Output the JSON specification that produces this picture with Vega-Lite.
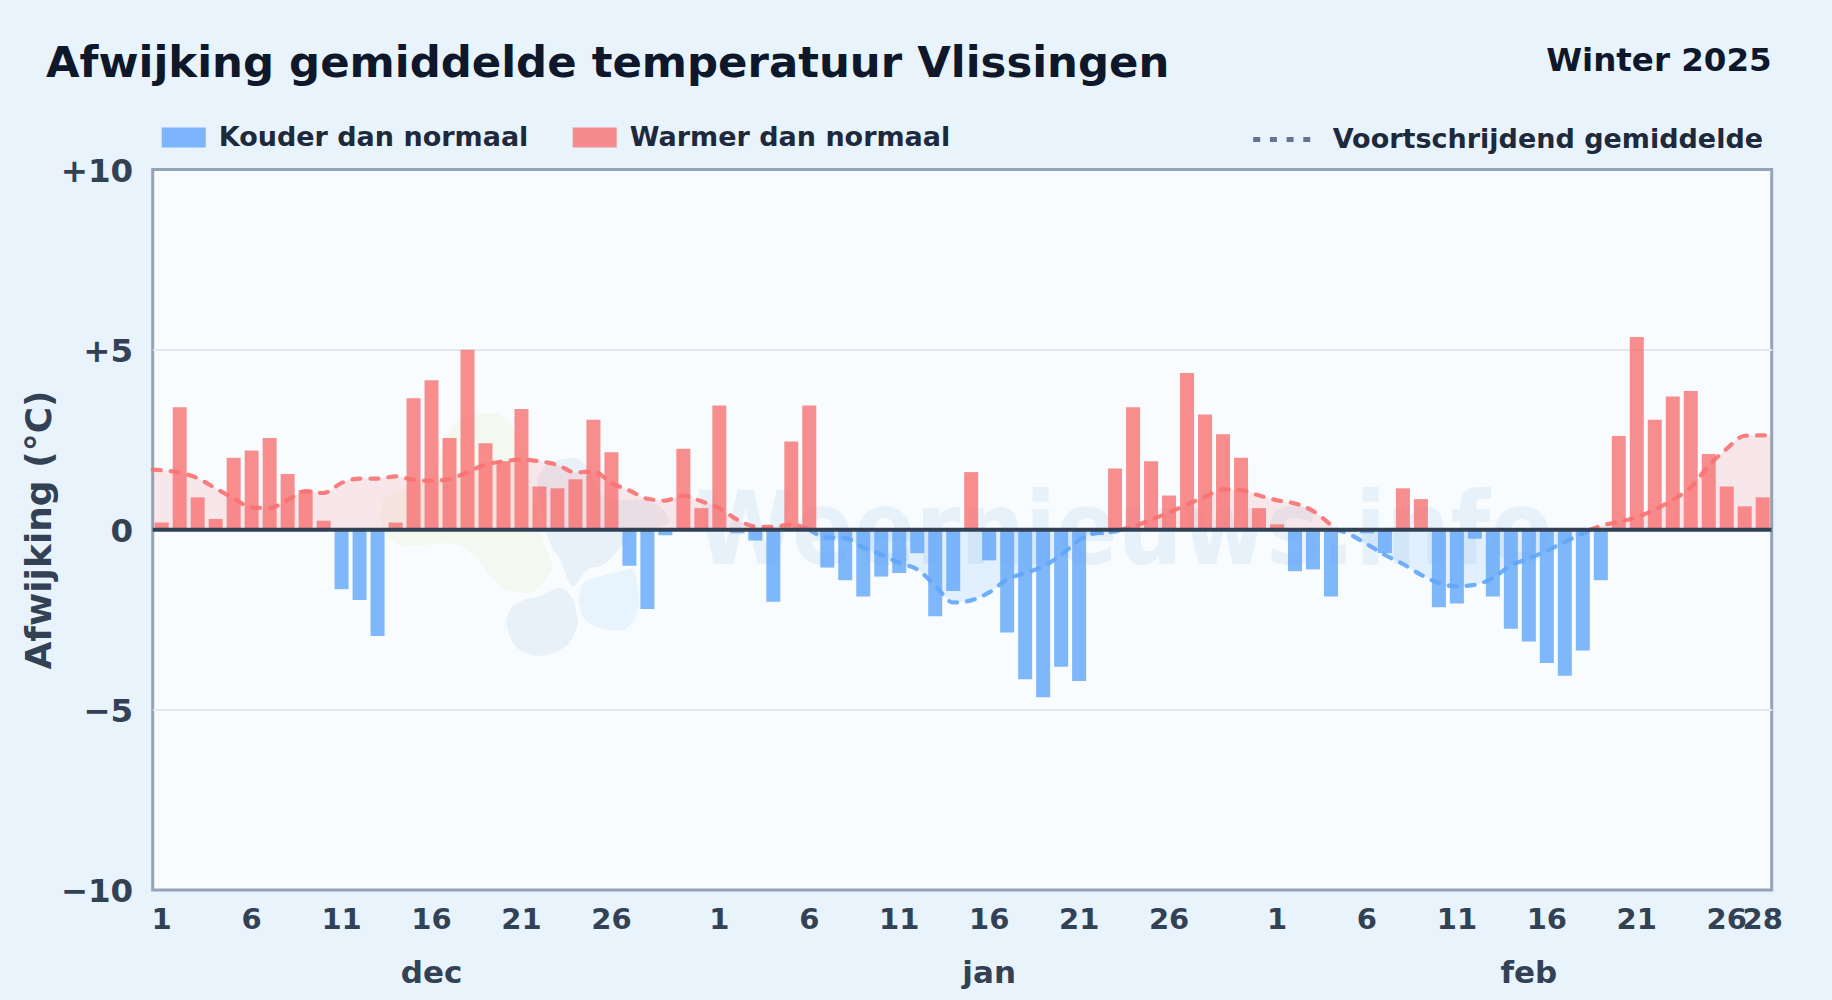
{"$schema":"https://vega.github.io/schema/vega-lite/v6.json","width":1619,"height":720.5,"autosize":{"type":"none"},"padding":{"left":152.7,"top":169.5,"right":60.3,"bottom":110},"background":"#e8f3fc","config":{"font":"DejaVu Sans","view":{"fill":"#f8fcff","stroke":"#94a3b8","strokeWidth":3}},"title":{"text":"Afwijking gemiddelde temperatuur Vlissingen","anchor":"start","frame":"group","font":"DejaVu Sans","fontSize":43.4,"fontWeight":"bold","color":"#0f172a","baseline":"alphabetic","dx":-106.7,"offset":-76},"datasets":{"dagen":[{"n":1,"afwijking":0.2,"type":"Warmer dan normaal"},{"n":2,"afwijking":3.4,"type":"Warmer dan normaal"},{"n":3,"afwijking":0.9,"type":"Warmer dan normaal"},{"n":4,"afwijking":0.3,"type":"Warmer dan normaal"},{"n":5,"afwijking":2.0,"type":"Warmer dan normaal"},{"n":6,"afwijking":2.2,"type":"Warmer dan normaal"},{"n":7,"afwijking":2.55,"type":"Warmer dan normaal"},{"n":8,"afwijking":1.55,"type":"Warmer dan normaal"},{"n":9,"afwijking":1.1,"type":"Warmer dan normaal"},{"n":10,"afwijking":0.25,"type":"Warmer dan normaal"},{"n":11,"afwijking":-1.65,"type":"Kouder dan normaal"},{"n":12,"afwijking":-1.95,"type":"Kouder dan normaal"},{"n":13,"afwijking":-2.95,"type":"Kouder dan normaal"},{"n":14,"afwijking":0.2,"type":"Warmer dan normaal"},{"n":15,"afwijking":3.65,"type":"Warmer dan normaal"},{"n":16,"afwijking":4.15,"type":"Warmer dan normaal"},{"n":17,"afwijking":2.55,"type":"Warmer dan normaal"},{"n":18,"afwijking":5.0,"type":"Warmer dan normaal"},{"n":19,"afwijking":2.4,"type":"Warmer dan normaal"},{"n":20,"afwijking":1.9,"type":"Warmer dan normaal"},{"n":21,"afwijking":3.35,"type":"Warmer dan normaal"},{"n":22,"afwijking":1.2,"type":"Warmer dan normaal"},{"n":23,"afwijking":1.15,"type":"Warmer dan normaal"},{"n":24,"afwijking":1.4,"type":"Warmer dan normaal"},{"n":25,"afwijking":3.05,"type":"Warmer dan normaal"},{"n":26,"afwijking":2.15,"type":"Warmer dan normaal"},{"n":27,"afwijking":-1.0,"type":"Kouder dan normaal"},{"n":28,"afwijking":-2.2,"type":"Kouder dan normaal"},{"n":29,"afwijking":-0.15,"type":"Kouder dan normaal"},{"n":30,"afwijking":2.25,"type":"Warmer dan normaal"},{"n":31,"afwijking":0.6,"type":"Warmer dan normaal"},{"n":32,"afwijking":3.45,"type":"Warmer dan normaal"},{"n":33,"afwijking":-0.1,"type":"Kouder dan normaal"},{"n":34,"afwijking":-0.3,"type":"Kouder dan normaal"},{"n":35,"afwijking":-2.0,"type":"Kouder dan normaal"},{"n":36,"afwijking":2.45,"type":"Warmer dan normaal"},{"n":37,"afwijking":3.45,"type":"Warmer dan normaal"},{"n":38,"afwijking":-1.05,"type":"Kouder dan normaal"},{"n":39,"afwijking":-1.4,"type":"Kouder dan normaal"},{"n":40,"afwijking":-1.85,"type":"Kouder dan normaal"},{"n":41,"afwijking":-1.3,"type":"Kouder dan normaal"},{"n":42,"afwijking":-1.2,"type":"Kouder dan normaal"},{"n":43,"afwijking":-0.65,"type":"Kouder dan normaal"},{"n":44,"afwijking":-2.4,"type":"Kouder dan normaal"},{"n":45,"afwijking":-1.7,"type":"Kouder dan normaal"},{"n":46,"afwijking":1.6,"type":"Warmer dan normaal"},{"n":47,"afwijking":-0.85,"type":"Kouder dan normaal"},{"n":48,"afwijking":-2.85,"type":"Kouder dan normaal"},{"n":49,"afwijking":-4.15,"type":"Kouder dan normaal"},{"n":50,"afwijking":-4.65,"type":"Kouder dan normaal"},{"n":51,"afwijking":-3.8,"type":"Kouder dan normaal"},{"n":52,"afwijking":-4.2,"type":"Kouder dan normaal"},{"n":53,"afwijking":-0.15,"type":"Kouder dan normaal"},{"n":54,"afwijking":1.7,"type":"Warmer dan normaal"},{"n":55,"afwijking":3.4,"type":"Warmer dan normaal"},{"n":56,"afwijking":1.9,"type":"Warmer dan normaal"},{"n":57,"afwijking":0.95,"type":"Warmer dan normaal"},{"n":58,"afwijking":4.35,"type":"Warmer dan normaal"},{"n":59,"afwijking":3.2,"type":"Warmer dan normaal"},{"n":60,"afwijking":2.65,"type":"Warmer dan normaal"},{"n":61,"afwijking":2.0,"type":"Warmer dan normaal"},{"n":62,"afwijking":0.6,"type":"Warmer dan normaal"},{"n":63,"afwijking":0.15,"type":"Warmer dan normaal"},{"n":64,"afwijking":-1.15,"type":"Kouder dan normaal"},{"n":65,"afwijking":-1.1,"type":"Kouder dan normaal"},{"n":66,"afwijking":-1.85,"type":"Kouder dan normaal"},{"n":67,"afwijking":-0.05,"type":"Kouder dan normaal"},{"n":68,"afwijking":-0.1,"type":"Kouder dan normaal"},{"n":69,"afwijking":-0.65,"type":"Kouder dan normaal"},{"n":70,"afwijking":1.15,"type":"Warmer dan normaal"},{"n":71,"afwijking":0.85,"type":"Warmer dan normaal"},{"n":72,"afwijking":-2.15,"type":"Kouder dan normaal"},{"n":73,"afwijking":-2.05,"type":"Kouder dan normaal"},{"n":74,"afwijking":-0.25,"type":"Kouder dan normaal"},{"n":75,"afwijking":-1.85,"type":"Kouder dan normaal"},{"n":76,"afwijking":-2.75,"type":"Kouder dan normaal"},{"n":77,"afwijking":-3.1,"type":"Kouder dan normaal"},{"n":78,"afwijking":-3.7,"type":"Kouder dan normaal"},{"n":79,"afwijking":-4.05,"type":"Kouder dan normaal"},{"n":80,"afwijking":-3.35,"type":"Kouder dan normaal"},{"n":81,"afwijking":-1.4,"type":"Kouder dan normaal"},{"n":82,"afwijking":2.6,"type":"Warmer dan normaal"},{"n":83,"afwijking":5.35,"type":"Warmer dan normaal"},{"n":84,"afwijking":3.05,"type":"Warmer dan normaal"},{"n":85,"afwijking":3.7,"type":"Warmer dan normaal"},{"n":86,"afwijking":3.85,"type":"Warmer dan normaal"},{"n":87,"afwijking":2.1,"type":"Warmer dan normaal"},{"n":88,"afwijking":1.2,"type":"Warmer dan normaal"},{"n":89,"afwijking":0.65,"type":"Warmer dan normaal"},{"n":90,"afwijking":0.9,"type":"Warmer dan normaal"}],"gemiddelde":[{"s":"a","k":"warm","n":0.5,"v":1.67},{"s":"a","k":"warm","n":1,"v":1.65},{"s":"a","k":"warm","n":2,"v":1.59},{"s":"a","k":"warm","n":3,"v":1.43},{"s":"a","k":"warm","n":4,"v":1.15},{"s":"a","k":"warm","n":5,"v":0.87},{"s":"a","k":"warm","n":6,"v":0.62},{"s":"a","k":"warm","n":7,"v":0.6},{"s":"a","k":"warm","n":8,"v":0.83},{"s":"a","k":"warm","n":9,"v":1.07},{"s":"a","k":"warm","n":10,"v":1.02},{"s":"a","k":"warm","n":11,"v":1.3},{"s":"a","k":"warm","n":12,"v":1.42},{"s":"a","k":"warm","n":13,"v":1.42},{"s":"a","k":"warm","n":14,"v":1.48},{"s":"a","k":"warm","n":15,"v":1.39},{"s":"a","k":"warm","n":16,"v":1.36},{"s":"a","k":"warm","n":17,"v":1.41},{"s":"a","k":"warm","n":18,"v":1.6},{"s":"a","k":"warm","n":19,"v":1.81},{"s":"a","k":"warm","n":20,"v":1.9},{"s":"a","k":"warm","n":21,"v":1.95},{"s":"a","k":"warm","n":22,"v":1.9},{"s":"a","k":"warm","n":23,"v":1.8},{"s":"a","k":"warm","n":24,"v":1.59},{"s":"a","k":"warm","n":25,"v":1.62},{"s":"a","k":"warm","n":26,"v":1.3},{"s":"a","k":"warm","n":27,"v":1.09},{"s":"a","k":"warm","n":28,"v":0.86},{"s":"a","k":"warm","n":29,"v":0.81},{"s":"a","k":"warm","n":30,"v":0.95},{"s":"a","k":"warm","n":31,"v":0.79},{"s":"a","k":"warm","n":32,"v":0.6},{"s":"a","k":"warm","n":33,"v":0.28},{"s":"a","k":"warm","n":34,"v":0.09},{"s":"a","k":"warm","n":35,"v":0.08},{"s":"a","k":"warm","n":36,"v":0.15},{"s":"a","k":"warm","n":37,"v":0},{"s":"b","k":"koud","n":37,"v":0},{"s":"b","k":"koud","n":38,"v":-0.22},{"s":"b","k":"koud","n":39,"v":-0.23},{"s":"b","k":"koud","n":40,"v":-0.5},{"s":"b","k":"koud","n":41,"v":-0.69},{"s":"b","k":"koud","n":42,"v":-0.92},{"s":"b","k":"koud","n":43,"v":-1.1},{"s":"b","k":"koud","n":44,"v":-1.55},{"s":"b","k":"koud","n":45,"v":-2.02},{"s":"b","k":"koud","n":46,"v":-1.96},{"s":"b","k":"koud","n":47,"v":-1.74},{"s":"b","k":"koud","n":48,"v":-1.38},{"s":"b","k":"koud","n":49,"v":-1.2},{"s":"b","k":"koud","n":50,"v":-1.02},{"s":"b","k":"koud","n":51,"v":-0.7},{"s":"b","k":"koud","n":52,"v":-0.29},{"s":"b","k":"koud","n":53,"v":-0.09},{"s":"b","k":"koud","n":54,"v":-0.05},{"s":"b","k":"koud","n":54.3,"v":0},{"s":"c","k":"warm","n":54.3,"v":0},{"s":"c","k":"warm","n":55,"v":0.09},{"s":"c","k":"warm","n":56,"v":0.28},{"s":"c","k":"warm","n":57,"v":0.48},{"s":"c","k":"warm","n":58,"v":0.7},{"s":"c","k":"warm","n":59,"v":0.92},{"s":"c","k":"warm","n":60,"v":1.12},{"s":"c","k":"warm","n":61,"v":1.1},{"s":"c","k":"warm","n":62,"v":0.95},{"s":"c","k":"warm","n":63,"v":0.82},{"s":"c","k":"warm","n":64,"v":0.73},{"s":"c","k":"warm","n":65,"v":0.52},{"s":"c","k":"warm","n":66,"v":0.13},{"s":"c","k":"warm","n":66.3,"v":0},{"s":"d","k":"koud","n":66.3,"v":0},{"s":"d","k":"koud","n":67,"v":-0.12},{"s":"d","k":"koud","n":68,"v":-0.4},{"s":"d","k":"koud","n":69,"v":-0.7},{"s":"d","k":"koud","n":70,"v":-0.95},{"s":"d","k":"koud","n":71,"v":-1.25},{"s":"d","k":"koud","n":72,"v":-1.48},{"s":"d","k":"koud","n":73,"v":-1.57},{"s":"d","k":"koud","n":74,"v":-1.53},{"s":"d","k":"koud","n":75,"v":-1.34},{"s":"d","k":"koud","n":76,"v":-0.99},{"s":"d","k":"koud","n":77,"v":-0.8},{"s":"d","k":"koud","n":78,"v":-0.58},{"s":"d","k":"koud","n":79,"v":-0.34},{"s":"d","k":"koud","n":80,"v":-0.1},{"s":"d","k":"koud","n":80.4,"v":0},{"s":"e","k":"warm","n":80.4,"v":0},{"s":"e","k":"warm","n":81,"v":0.11},{"s":"e","k":"warm","n":82,"v":0.22},{"s":"e","k":"warm","n":83,"v":0.35},{"s":"e","k":"warm","n":84,"v":0.56},{"s":"e","k":"warm","n":85,"v":0.83},{"s":"e","k":"warm","n":86,"v":1.18},{"s":"e","k":"warm","n":87,"v":1.78},{"s":"e","k":"warm","n":88,"v":2.25},{"s":"e","k":"warm","n":89,"v":2.61},{"s":"e","k":"warm","n":90,"v":2.62},{"s":"e","k":"warm","n":90.5,"v":2.61}],"logo":[{"b":"g","n":13.13,"t":0.46,"o":0.46},{"b":"g","n":13.32,"t":0.83,"o":0.0},{"b":"g","n":13.87,"t":1.02,"o":-0.32},{"b":"g","n":14.8,"t":1.16,"o":-0.46},{"b":"g","n":15.73,"t":1.39,"o":-0.42},{"b":"g","n":16.87,"t":2.59,"o":-0.37},{"b":"g","n":17.58,"t":3.06,"o":-0.46},{"b":"g","n":18.5,"t":3.24,"o":-0.74},{"b":"g","n":19.43,"t":3.24,"o":-1.39},{"b":"g","n":20.36,"t":2.96,"o":-1.71},{"b":"g","n":21.28,"t":1.76,"o":-1.76},{"b":"g","n":22.03,"t":0,"o":-1.57},{"b":"g","n":22.77,"t":-1.02,"o":-1.02},{"b":"d1","n":20.14,"t":-2.59,"o":-2.59},{"b":"d1","n":20.36,"t":-2.22,"o":-2.96},{"b":"d1","n":20.91,"t":-1.99,"o":-3.33},{"b":"d1","n":22.03,"t":-1.85,"o":-3.5},{"b":"d1","n":23.14,"t":-1.62,"o":-3.33},{"b":"d1","n":23.88,"t":-1.95,"o":-2.96},{"b":"d1","n":24.16,"t":-2.59,"o":-2.59},{"b":"d2","n":21.84,"t":1.43,"o":1.39},{"b":"d2","n":22.4,"t":1.8,"o":-0.09},{"b":"d2","n":23.14,"t":1.94,"o":-0.83},{"b":"d2","n":23.88,"t":1.99,"o":-1.57},{"b":"d2","n":24.62,"t":1.76,"o":-1.11},{"b":"d2","n":25.55,"t":0.93,"o":-0.97},{"b":"d2","n":26.38,"t":0.83,"o":-0.56},{"b":"d2","n":27.4,"t":0.83,"o":0},{"b":"d2","n":28.33,"t":0.74,"o":0.05},{"b":"d2","n":29.07,"t":0.42,"o":0.14},{"b":"d2","n":29.25,"t":0.23,"o":0.23},{"b":"l","n":24.16,"t":-1.95,"o":-1.95},{"b":"l","n":24.43,"t":-1.48,"o":-2.41},{"b":"l","n":25.36,"t":-1.3,"o":-2.73},{"b":"l","n":26.47,"t":-1.16,"o":-2.8},{"b":"l","n":27.21,"t":-1.07,"o":-2.55},{"b":"l","n":27.58,"t":-2.04,"o":-2.04}],"maanden":[{"n":16,"maand":"dec"},{"n":47,"maand":"jan"},{"n":77,"maand":"feb"}]},"layer":[{"data":{"name":"logo"},"transform":[{"filter":"datum.b==='g'"}],"mark":{"type":"area","interpolate":"monotone","color":"#f3f8f1"},"encoding":{"x":{"field":"n","type":"quantitative"},"y":{"field":"t","type":"quantitative"},"y2":{"field":"o"}}},{"data":{"name":"logo"},"transform":[{"filter":"datum.b==='d1'||datum.b==='d2'"}],"mark":{"type":"area","interpolate":"monotone","color":"#e8f0f8"},"encoding":{"x":{"field":"n","type":"quantitative"},"y":{"field":"t","type":"quantitative"},"y2":{"field":"o"},"detail":{"field":"b"}}},{"data":{"name":"logo"},"transform":[{"filter":"datum.b==='l'"}],"mark":{"type":"area","interpolate":"monotone","color":"#e8f4fd"},"encoding":{"x":{"field":"n","type":"quantitative"},"y":{"field":"t","type":"quantitative"},"y2":{"field":"o"}}},{"data":{"values":[{"n":54.5,"v":-0.94,"t":"Weernieuws.info"}]},"mark":{"type":"text","font":"DejaVu Sans Condensed","fontWeight":"bold","fontSize":101,"color":"#e7f1fa","align":"center","baseline":"alphabetic"},"encoding":{"x":{"field":"n","type":"quantitative"},"y":{"field":"v","type":"quantitative"},"text":{"field":"t"}}},{"data":{"name":"gemiddelde"},"mark":{"type":"area","interpolate":"monotone","opacity":0.15},"encoding":{"x":{"field":"n","type":"quantitative"},"y":{"field":"v","type":"quantitative","stack":null},"y2":{"datum":0},"detail":{"field":"s"},"color":{"field":"k","type":"nominal","scale":{"domain":["warm","koud"],"range":["#f87171","#60a5fa"]},"legend":null}}},{"data":{"name":"dagen"},"mark":{"type":"bar","size":14,"opacity":0.8,"orient":"vertical"},"encoding":{"x":{"field":"n","type":"quantitative","scale":{"domain":[0.5,90.5],"nice":false,"zero":false,"padding":0},"axis":{"values":[1,6,11,16,21,26,32,37,42,47,52,57,63,68,73,78,83,88,90],"labelExpr":"''+(datum.value>62?datum.value-62:datum.value>31?datum.value-31:datum.value)","title":null,"domain":false,"ticks":false,"grid":false,"labelFont":"DejaVu Sans","labelFontWeight":"bold","labelFontSize":29,"labelColor":"#334155","labelPadding":15,"labelOffset":-0.5,"labelOverlap":false,"labelBound":false,"labelFlush":false}},"y":{"field":"afwijking","type":"quantitative","stack":null,"scale":{"domain":[-10,10],"nice":false},"axis":{"values":[-10,-5,0,5,10],"labelExpr":"datum.value>0?'+'+datum.value:datum.value<0?'\u2212'+abs(datum.value):'0'","title":"Afwijking (°C)","titleFont":"DejaVu Sans","titleFontWeight":"bold","titleFontSize":36,"titleColor":"#334155","titleBaseline":"alphabetic","titleX":-102.7,"titleY":360,"domain":false,"ticks":false,"grid":true,"gridColor":{"condition":{"test":"abs(datum.value)==10","value":"transparent"},"value":"#e2e8f0"},"gridWidth":2,"labelFont":"DejaVu Sans","labelFontWeight":"bold","labelFontSize":32.5,"labelColor":"#334155","labelPadding":20,"labelOffset":1.5,"labelOverlap":false}},"fill":{"field":"type","type":"nominal","scale":{"domain":["Kouder dan normaal","Warmer dan normaal"],"range":["#60a5fa","#f87171"]},"legend":{"orient":"none","legendX":9,"legendY":-54,"direction":"horizontal","title":null,"symbolType":"M-1,-0.45H1V0.45H-1Z","symbolSize":1936,"symbolOpacity":0.8,"symbolStrokeWidth":0,"labelFont":"DejaVu Sans","labelFontWeight":"bold","labelFontSize":27,"labelLimit":600,"labelColor":"#1e293b","labelOffset":13,"columnPadding":44}}}},{"data":{"name":"gemiddelde"},"mark":{"type":"line","interpolate":"monotone","strokeWidth":4.2,"strokeCap":"round","strokeDash":[8,10],"opacity":0.9},"encoding":{"x":{"field":"n","type":"quantitative"},"y":{"field":"v","type":"quantitative","stack":null},"detail":{"field":"s"},"stroke":{"field":"k","type":"nominal","scale":{"domain":["warm","koud"],"range":["#f87171","#60a5fa"]},"legend":null}}},{"data":{"values":[{"n":1,"v":0}]},"mark":{"type":"line","color":"#64748b"},"encoding":{"x":{"field":"n","type":"quantitative"},"y":{"field":"v","type":"quantitative","stack":null},"strokeDash":{"datum":"Voortschrijdend gemiddelde","type":"nominal","scale":{"range":[[7,9.7]]},"legend":{"orient":"none","legendX":1098,"legendY":-61,"title":null,"symbolType":"stroke","symbolSize":3249,"symbolStrokeWidth":5,"symbolOpacity":1,"labelFont":"DejaVu Sans","labelFontWeight":"bold","labelFontSize":27,"labelLimit":600,"labelColor":"#1e293b","labelOffset":20}}}},{"data":{"values":[{"nul":0}]},"mark":{"type":"rule","color":"#334155","strokeWidth":4},"encoding":{"y":{"field":"nul","type":"quantitative"}}},{"data":{"name":"maanden"},"mark":{"type":"text","font":"DejaVu Sans","fontWeight":"bold","fontSize":31,"color":"#334155","baseline":"middle","clip":false},"encoding":{"x":{"field":"n","type":"quantitative"},"y":{"datum":-12.32},"text":{"field":"maand"}}},{"data":{"values":[{"n":90.5,"t":"Winter 2025"}]},"mark":{"type":"text","font":"DejaVu Sans","fontWeight":"bold","fontSize":32.5,"color":"#0f172a","align":"right","baseline":"alphabetic","clip":false},"encoding":{"x":{"field":"n","type":"quantitative"},"y":{"datum":12.74},"text":{"field":"t"}}}]}
